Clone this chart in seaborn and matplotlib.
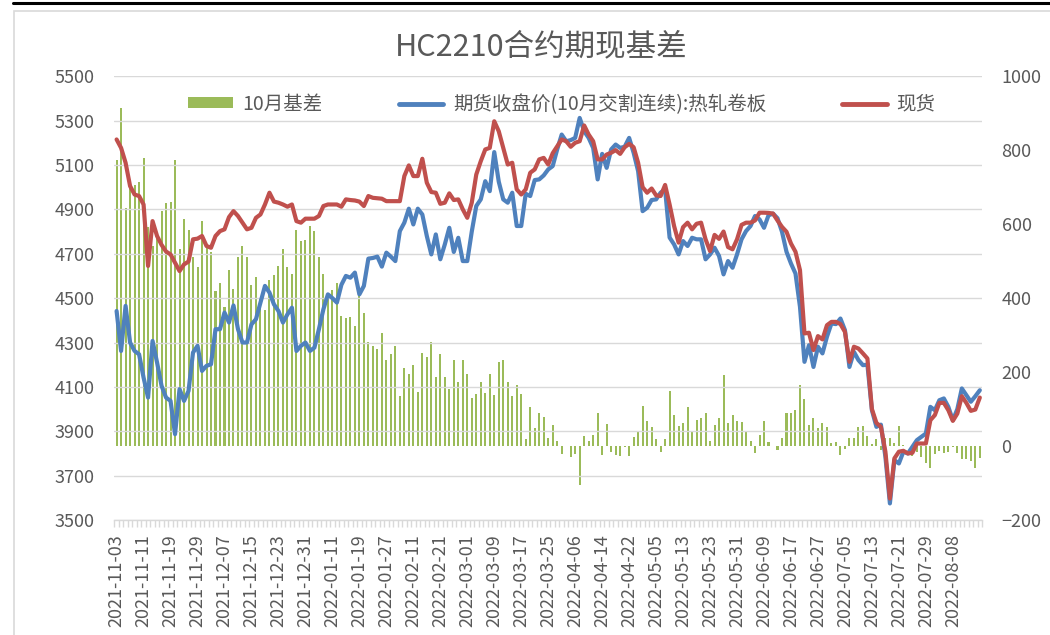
import numpy as np
import matplotlib
matplotlib.use("Agg")
import matplotlib.pyplot as plt
import seaborn as sns
from matplotlib.patches import Patch, Rectangle
from matplotlib.lines import Line2D

# ==============================================================================
# 数据 (每个交易日一个值, 2021-11-03 ~ 2022-08-16, 从原图读出)
# ==============================================================================
spot = [  # 现货
    5215, 5177, 5110, 5005, 4967, 4960, 4922, 4645, 4847, 4780,
    4740, 4710, 4697, 4660, 4622, 4652, 4665, 4765, 4768, 4780,
    4735, 4727, 4780, 4802, 4810, 4865, 4892, 4870, 4840, 4810,
    4817, 4862, 4877, 4922, 4975, 4935, 4930, 4922, 4912, 4922,
    4847, 4840, 4858, 4858, 4858, 4870, 4915, 4922, 4922, 4922,
    4912, 4945, 4942, 4940, 4935, 4915, 4960, 4952, 4950, 4948,
    4937, 4937, 4937, 4937, 5050, 5098, 5050, 5050, 5128, 5020,
    4978, 4975, 4925, 4930, 4972, 4942, 4945, 4900, 4862, 4930,
    5057, 5117, 5170, 5177, 5297, 5252, 5177, 5102, 5110, 4990,
    4967, 4990, 5065, 5080, 5125, 5132, 5102, 5153, 5184, 5215,
    5207, 5182, 5200, 5207, 5278, 5237, 5207, 5125, 5125, 5147,
    5155, 5167, 5150, 5180, 5195, 5180, 5110, 5000, 4975, 4994,
    4963, 4960, 5010, 4922, 4825, 4750, 4820, 4840, 4810, 4835,
    4840, 4765, 4712, 4785, 4767, 4800, 4730, 4720, 4765, 4830,
    4840, 4840, 4850, 4885, 4885, 4884, 4881, 4850, 4821, 4799,
    4746, 4709, 4626, 4341, 4344, 4266, 4329, 4314, 4378, 4393,
    4393, 4383, 4348, 4213, 4281, 4273, 4251, 4228, 4000, 3938,
    3920, 3808, 3597, 3778, 3808, 3812, 3800, 3803, 3845, 3845,
    3845, 3950, 3973, 4028, 4028, 3995, 3947, 3980, 4058, 4028,
    3992, 3998, 4052,
]
futures = [  # 期货收盘价(10月交割连续):热轧卷板
    4442, 4262, 4465, 4300, 4262, 4247, 4142, 4052, 4307, 4210,
    4105, 4052, 4037, 3887, 4090, 4037, 4082, 4255, 4285, 4172,
    4195, 4202, 4360, 4360, 4435, 4390, 4467, 4360, 4300, 4300,
    4382, 4405, 4480, 4555, 4525, 4472, 4442, 4390, 4427, 4457,
    4262, 4285, 4300, 4262, 4277, 4360, 4450, 4517, 4500, 4480,
    4560, 4600, 4592, 4615, 4517, 4555, 4678, 4681, 4687, 4642,
    4705, 4687, 4667, 4802, 4840, 4903, 4832, 4903, 4877, 4780,
    4697, 4787, 4675, 4742, 4817, 4708, 4772, 4667, 4667, 4800,
    4915, 4945, 5027, 4982, 5158, 5025, 4945, 4930, 4975, 4825,
    4825, 4970, 4960, 5032, 5035, 5053, 5080, 5095, 5170, 5237,
    5207, 5212, 5222, 5312, 5252, 5222, 5177, 5035, 5150, 5087,
    5170, 5192, 5177, 5182, 5222, 5155, 5072, 4892, 4907, 4942,
    4945, 4975, 4990, 4773, 4742, 4697, 4757, 4735, 4772, 4765,
    4765, 4675, 4697, 4727, 4690, 4607, 4667, 4637, 4697, 4765,
    4802, 4825, 4870, 4855, 4817, 4873, 4881, 4860, 4799, 4709,
    4656, 4611, 4461, 4213, 4288, 4190, 4281, 4251, 4326, 4386,
    4383, 4408, 4356, 4190, 4258, 4221, 4198, 4200, 3995, 3920,
    3930, 3785, 3575, 3770, 3755, 3808, 3800, 3830, 3860, 3875,
    3890, 4010, 3995, 4040, 4048, 4010, 3950, 4000, 4093, 4063,
    4033, 4058, 4085,
]
tick_labels = [
    '2021-11-03', '2021-11-11', '2021-11-19', '2021-11-29', '2021-12-07',
    '2021-12-15', '2021-12-23', '2021-12-31', '2022-01-11', '2022-01-19',
    '2022-01-27', '2022-02-11', '2022-02-21', '2022-03-01', '2022-03-09',
    '2022-03-17', '2022-03-25', '2022-04-06', '2022-04-14', '2022-04-22',
    '2022-05-05', '2022-05-13', '2022-05-23', '2022-05-31', '2022-06-09',
    '2022-06-17', '2022-06-27', '2022-07-05', '2022-07-13', '2022-07-21',
    '2022-07-29', '2022-08-08',
]
label_step = 6  # 每6个交易日一个标签

basis = np.array(spot) - np.array(futures)  # 10月基差 = 现货 - 期货
idx = np.arange(len(spot))

GREEN = '#9BBB59'
BLUE = '#4F81BD'
RED = '#C0504D'
GRID = '#D9D9D9'
TXT = '#595959'

sns.set_theme(style='white')
plt.rcParams['font.family'] = ['Noto Sans CJK SC', 'DejaVu Sans']

fig = plt.figure(figsize=(10.5, 6.35), dpi=100)
ax_bar = fig.add_axes([0.1089, 0.181, 0.8264, 0.699])
ax = ax_bar.twinx()

# 柱状图 (右轴)
sns.barplot(x=idx, y=basis, color=GREEN, width=0.45, saturation=1,
            errorbar=None, ax=ax_bar, linewidth=0)
ax_bar.set_ylim(-200, 1000)
ax_bar.set_yticks(np.arange(-200, 1001, 200))
ax_bar.yaxis.tick_right()
ax_bar.set_xlim(-0.5, len(idx) - 0.5)

# 折线 (左轴)
sns.lineplot(x=idx, y=futures, color=BLUE, lw=3.0, ax=ax, legend=False,
             solid_joinstyle='round')
sns.lineplot(x=idx, y=spot, color=RED, lw=3.0, ax=ax, legend=False,
             solid_joinstyle='round')
ax.yaxis.tick_left()
ax.set_ylim(3500, 5500)
ax.set_yticks(np.arange(3500, 5501, 200))
ax.grid(axis='y', color=GRID, lw=1.0)
ax.set_axisbelow(True)

for a in (ax, ax_bar):
    a.set_xlabel('')
    a.set_ylabel('')
    for s in ('top', 'left', 'right'):
        a.spines[s].set_visible(False)
ax.spines['bottom'].set_visible(False)
ax_bar.spines['bottom'].set_color(GRID)
ax_bar.spines['bottom'].set_linewidth(1.0)

# x轴标签
ax_bar.set_xticks(idx[::label_step][:len(tick_labels)])
ax_bar.set_xticklabels(tick_labels, rotation=90)
ax_bar.set_xticks(np.arange(len(idx) + 1) - 0.5, minor=True)
ax_bar.tick_params(axis='x', which='major', length=0, pad=10,
                   labelsize=13, labelcolor=TXT)
ax_bar.tick_params(axis='x', which='minor', bottom=True, length=5,
                   width=1, color=GRID, direction='out')
ax_bar.tick_params(axis='y', length=0, pad=14, labelsize=13, labelcolor=TXT)
ax.tick_params(axis='y', length=0, pad=14, labelsize=13, labelcolor=TXT)

# 标题
fig.text(0.515, 0.926, 'HC2210合约期现基差', ha='center', va='center',
         fontsize=22, color=TXT, fontweight='light')

# 图例
handles = [
    Patch(facecolor=GREEN, edgecolor='none'),
    Line2D([], [], color=BLUE, lw=3.5, solid_capstyle='round'),
    Line2D([], [], color=RED, lw=3.5, solid_capstyle='round'),
]
labels = ['10月基差', '期货收盘价(10月交割连续):热轧卷板', '现货']
fig.legend(handles, labels, loc='center', bbox_to_anchor=(0.535, 0.836),
           ncol=3, frameon=False, fontsize=14, handlelength=2.3,
           handleheight=0.45, columnspacing=3.9, handletextpad=0.5,
           labelcolor=TXT)

# 外框
fig.add_artist(Line2D([13 / 1050, 1], [1 - 3 / 635] * 2,
                      transform=fig.transFigure, color='black', lw=2.2))
fig.add_artist(Rectangle((14 / 1050, -0.1), 1.2, 1.1 - 11 / 635,
                         transform=fig.transFigure, fill=False,
                         edgecolor=GRID, lw=1.2))

plt.savefig('out.png', dpi=100)
plt.close()
